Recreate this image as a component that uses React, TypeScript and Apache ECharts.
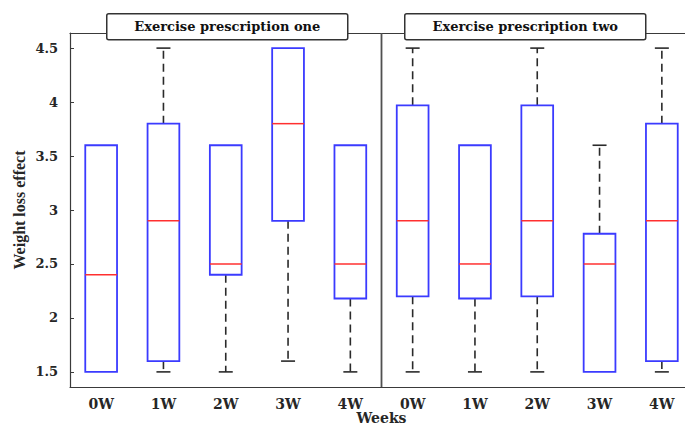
import React, { useEffect, useRef } from "react";
import * as echarts from "echarts";

const categories = ["0W", "1W", "2W", "3W", "4W", "0W", "1W", "2W", "3W", "4W"];
const groupTitles = ["Exercise prescription one", "Exercise prescription two"];
// [lower whisker, Q1, median, Q3, upper whisker]
const lowerWhisker = [1.5, 1.5, 1.5, 1.6, 1.5, 1.5, 1.5, 1.5, 1.5, 1.5];
const q1 = [1.5, 1.6, 2.4, 2.9, 2.18, 2.2, 2.18, 2.2, 1.5, 1.6];
const median = [2.4, 2.9, 2.5, 3.8, 2.5, 2.9, 2.5, 2.9, 2.5, 2.9];
const q3 = [3.6, 3.8, 3.6, 4.5, 3.6, 3.97, 3.6, 3.97, 2.78, 3.8];
const upperWhisker = [3.6, 4.5, 3.6, 4.5, 3.6, 4.5, 3.6, 4.5, 3.6, 4.5];

const SERIF_WIDE = "'DejaVu Serif', serif";
const SERIF = "'Liberation Serif', 'Times New Roman', serif";
const AXIS_COLOR = "#3a3a3a";
const TEXT_COLOR = "#262626";

export default function App() {
  const ref = useRef<HTMLDivElement>(null);
  useEffect(() => {
    if (!ref.current) return;
    const chart = echarts.init(ref.current, undefined, { renderer: "svg" });
    const data = categories.map((_, i) => [i, lowerWhisker[i], q1[i], median[i], q3[i], upperWhisker[i]]);

    const renderItem = (params: any, api: any) => {
      const idx = api.value(0);
      const lo = api.value(1);
      const b1 = api.value(2);
      const md = api.value(3);
      const b3 = api.value(4);
      const hi = api.value(5);
      const band = api.size([1, 0])[0];
      const bw = band * 0.51;
      const cap = 14;
      const pLo = api.coord([idx, lo]);
      const p1 = api.coord([idx, b1]);
      const pm = api.coord([idx, md]);
      const p3 = api.coord([idx, b3]);
      const pHi = api.coord([idx, hi]);
      const cx = pm[0];
      const children: any[] = [];
      const whiskerStyle = { stroke: "#2a2a2a", lineWidth: 1.6, lineDash: [8, 5] };
      const capStyle = { stroke: "#2a2a2a", lineWidth: 1.6 };
      if (hi > b3) {
        children.push({ type: "line", shape: { x1: cx, y1: p3[1], x2: cx, y2: pHi[1] }, style: whiskerStyle });
        children.push({ type: "line", shape: { x1: cx - cap / 2, y1: pHi[1], x2: cx + cap / 2, y2: pHi[1] }, style: capStyle });
      }
      if (lo < b1) {
        children.push({ type: "line", shape: { x1: cx, y1: p1[1], x2: cx, y2: pLo[1] }, style: whiskerStyle });
        children.push({ type: "line", shape: { x1: cx - cap / 2, y1: pLo[1], x2: cx + cap / 2, y2: pLo[1] }, style: capStyle });
      }
      children.push({
        type: "rect",
        shape: { x: cx - bw / 2, y: p3[1], width: bw, height: p1[1] - p3[1] },
        style: { fill: "none", stroke: "#3b3bff", lineWidth: 1.8 },
      });
      children.push({
        type: "line",
        shape: { x1: cx - bw / 2, y1: pm[1], x2: cx + bw / 2, y2: pm[1] },
        style: { stroke: "#ff3030", lineWidth: 1.5 },
      });
      if (idx === 5) {
        const cs = params.coordSys;
        const x = cx - band / 2;
        children.push({
          type: "line",
          shape: { x1: x, y1: cs.y, x2: x, y2: cs.y + cs.height },
          style: { stroke: "#505050", lineWidth: 1.8 },
        });
      }
      return { type: "group", children };
    };

    const titleBox = (label: string, left: number) => ({
      type: "group",
      left,
      top: 13,
      z: 100,
      children: [
        {
          type: "rect",
          shape: { x: 0, y: 0, width: 241, height: 26, r: 2 },
          style: { fill: "#fff", stroke: "#333", lineWidth: 1.5 },
          z: 100,
        },
        {
          type: "text",
          x: 120.5,
          y: 13,
          z: 101,
          style: {
            text: label,
            fill: "#111",
            font: `bold 13px ${SERIF_WIDE}`,
            textAlign: "center",
            textVerticalAlign: "middle",
          },
        },
      ],
    });

    chart.setOption({
      animation: false,
      grid: { left: 70, right: -8, top: 33, bottom: 38, containLabel: false, outerBoundsMode: "none" },
      xAxis: [
        {
          type: "category",
          data: categories,
          position: "bottom",
          boundaryGap: true,
          axisLine: { lineStyle: { color: AXIS_COLOR, width: 1.2 } },
          axisTick: { inside: true, alignWithLabel: true, length: 4, lineStyle: { color: AXIS_COLOR } },
          axisLabel: {
            margin: 10,
            fontFamily: SERIF_WIDE,
            fontWeight: "bold",
            fontSize: 14,
            color: TEXT_COLOR,
            interval: 0,
          },
          name: "Weeks",
          nameLocation: "middle",
          nameGap: 24,
          nameMoveOverlap: false,
          nameTextStyle: { fontFamily: SERIF_WIDE, fontWeight: "bold", fontSize: 14, color: TEXT_COLOR },
          splitLine: { show: false },
        },
        {
          type: "category",
          data: categories,
          position: "top",
          boundaryGap: true,
          axisLine: { lineStyle: { color: AXIS_COLOR, width: 1.2 } },
          axisTick: { inside: true, alignWithLabel: true, length: 4, lineStyle: { color: AXIS_COLOR } },
          axisLabel: { show: false },
          splitLine: { show: false },
        },
      ],
      yAxis: {
        type: "value",
        min: 1.36,
        max: 4.64,
        splitNumber: 6,
        axisLine: { show: true, lineStyle: { color: AXIS_COLOR, width: 1.2 } },
        axisTick: { show: true, inside: true, length: 4, lineStyle: { color: AXIS_COLOR } },
        splitLine: { show: false },
        axisLabel: {
          showMinLabel: false,
          showMaxLabel: false,
          margin: 12,
          fontFamily: SERIF_WIDE,
          fontWeight: "bold",
          fontSize: 13,
          color: TEXT_COLOR,
        },
        name: "Weight loss effect",
        nameLocation: "middle",
        nameGap: 43,
        nameMoveOverlap: false,
        nameTextStyle: { fontFamily: SERIF, fontWeight: "bold", fontSize: 16, color: TEXT_COLOR },
      },
      graphic: [titleBox(groupTitles[0], 106), titleBox(groupTitles[1], 404)],
      series: [
        {
          type: "custom",
          xAxisIndex: 0,
          yAxisIndex: 0,
          renderItem,
          encode: { x: 0, y: [1, 2, 3, 4, 5] },
          data,
          clip: false,
          z: 5,
        },
      ],
    });
    return () => chart.dispose();
  }, []);
  return <div ref={ref} style={{ position: "absolute", left: 0, top: 0, width: 685, height: 425 }} />;
}
